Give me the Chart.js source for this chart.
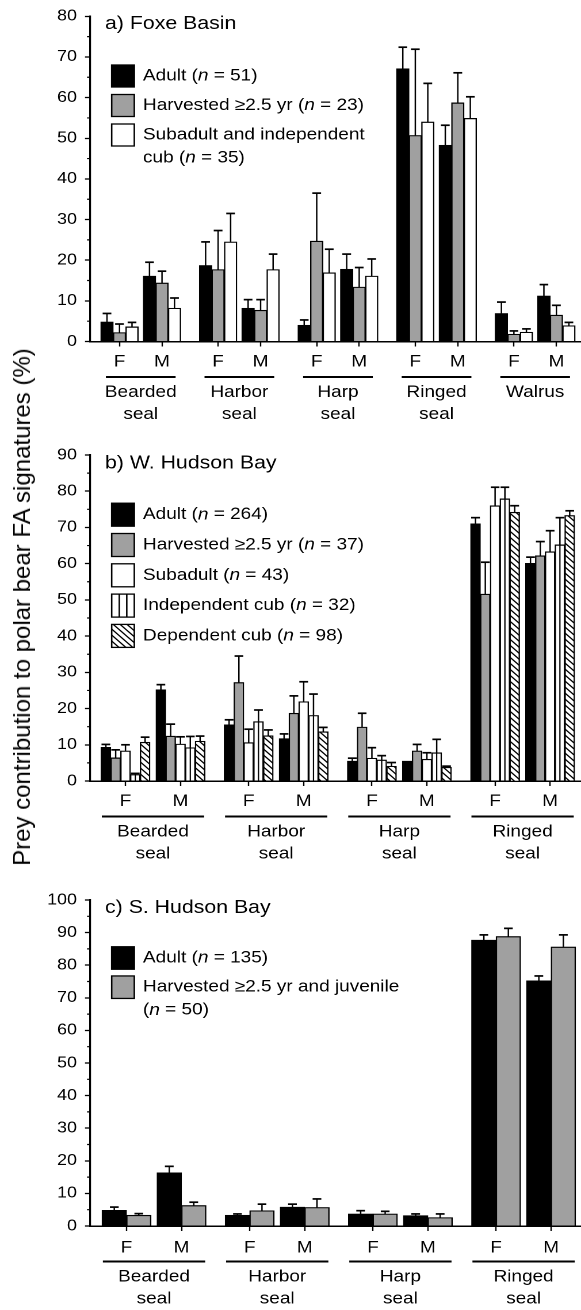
<!DOCTYPE html>
<html>
<head>
<meta charset="utf-8">
<title>Prey contribution to polar bear FA signatures</title>
<script src="https://cdn.jsdelivr.net/npm/chart.js@4.4.1/dist/chart.umd.min.js"></script>
<style>
  body { margin: 0; background: #fff; }
  #page { position: relative; width: 581px; height: 1310px; overflow: hidden; background: #fff; }
  #page canvas { position: absolute; left: 0; transform: scaleX(1.1505); transform-origin: 0 0; }
  #ytitle { position: absolute; left: 22px; top: 607px; white-space: nowrap;
    font: 24px "Liberation Sans", Arial, sans-serif; color: #000;
    transform: translate(-50%, -50%) rotate(-90deg); }
</style>
</head>
<body>
<div id="page">
  <canvas id="panelA" width="505" height="430" style="top:0"></canvas>
  <canvas id="panelB" width="505" height="440" style="top:430px"></canvas>
  <canvas id="panelC" width="505" height="440" style="top:870px"></canvas>
  <div id="ytitle">Prey contribution to polar bear FA signatures (%)</div>
</div>
<script>
const sexes = ['F', 'M'];

// a) Foxe Basin  (bars: Bearded F, Bearded M, Harbor F, Harbor M, Harp F, Harp M, Ringed F, Ringed M, Walrus F, Walrus M)
const speciesA = ['Bearded seal', 'Harbor seal', 'Harp seal', 'Ringed seal', 'Walrus'];
const groupsA = ['Adult', 'Harvested \u22652.5 yr', 'Subadult and independent\ncub'];
const sizesA = [51, 23, 35];
const adultA    = [4.8, 16.1, 18.7, 8.2, 4.0, 17.8, 67.1, 48.3, 6.9, 11.2];
const adultErrA = [2.1, 3.4, 5.8, 2.1, 1.3, 3.7, 5.3, 4.9, 2.8, 2.8];
const harvA     = [2.2, 14.4, 17.7, 7.7, 24.7, 13.4, 50.7, 58.7, 1.8, 6.5];
const harvErrA  = [2.1, 2.9, 9.6, 2.6, 11.8, 4.8, 21.2, 7.4, 0.8, 2.4];
const subA      = [3.6, 8.2, 24.5, 17.7, 16.9, 16.1, 54.0, 54.9, 2.3, 3.9];
const subErrA   = [1.1, 2.5, 7.0, 3.8, 5.8, 4.2, 9.5, 5.3, 0.8, 0.8];

// b) W. Hudson Bay  (bars: Bearded F, Bearded M, Harbor F, Harbor M, Harp F, Harp M, Ringed F, Ringed M)
const speciesB = ['Bearded seal', 'Harbor seal', 'Harp seal', 'Ringed seal'];
const groupsB = ['Adult', 'Harvested \u22652.5 yr', 'Subadult', 'Independent cub', 'Dependent cub'];
const sizesB = [264, 37, 43, 32, 98];
const adultB    = [9.3, 25.2, 15.5, 11.7, 5.5, 5.5, 71.0, 60.1];
const adultErrB = [0.8, 1.4, 1.4, 1.3, 0.8, 0, 1.7, 1.7];
const harvB     = [6.4, 12.4, 27.2, 18.7, 14.9, 8.3, 51.6, 62.2];
const harvErrB  = [2.2, 3.3, 7.3, 4.8, 3.8, 1.8, 8.8, 3.9];
const subB      = [8.3, 10.2, 10.6, 21.9, 6.3, 6.0, 76.0, 63.3];
const subErrB   = [1.7, 2.0, 3.7, 5.5, 2.9, 1.8, 5.1, 5.8];
const indB      = [1.8, 9.2, 16.4, 18.1, 5.8, 7.8, 77.9, 65.2];
const indErrB   = [0.3, 3.1, 3.2, 5.9, 1.2, 3.7, 3.2, 7.5];
const depB      = [10.7, 11.0, 12.5, 13.6, 4.1, 3.8, 74.2, 73.3];
const depErrB   = [1.4, 1.4, 1.6, 1.2, 1.0, 0.3, 1.8, 1.3];

// c) S. Hudson Bay
const speciesC = ['Bearded seal', 'Harbor seal', 'Harp seal', 'Ringed seal'];
const groupsC = ['Adult', 'Harvested \u22652.5 yr and juvenile\n'];
const sizesC = [135, 50];
const adultC    = [4.8, 16.3, 3.3, 5.8, 3.7, 3.2, 87.7, 75.2];
const adultErrC = [1.0, 2.0, 0.4, 0.9, 1.0, 0.5, 1.6, 1.5];
const harvC     = [3.3, 6.3, 4.7, 5.7, 3.7, 2.6, 88.8, 85.6];
const harvErrC  = [0.5, 1.0, 2.0, 2.6, 0.8, 1.1, 2.5, 3.7];

// the reference figure is stretched sideways, so every canvas is drawn narrow and scaled in x
const S = 581 / 505;
const FONT = '"Liberation Sans", Arial, Helvetica, sans-serif';
Chart.defaults.font.family = FONT;
Chart.defaults.color = '#000';

function series(labels, sizes, vals, errs, fills) {
  return labels.map((l, i) => ({ label: l, n: sizes[i], values: vals[i], errors: errs[i], fill: fills[i] }));
}

const panels = [
  { id: 'panelA', title: 'a) Foxe Basin', species: speciesA, yMax: 80,
    series: series(groupsA, sizesA, [adultA, harvA, subA], [adultErrA, harvErrA, subErrA], ['black', 'gray', 'white']),
    spacing: 2.32, xMin: -0.694, xMax: 10.859, barWidth: 10.87, lineExt: 0.32,
    plotTop: 15, plotBottom: 341.5, tickPad: 5.5,
    titleY: 24, legendY: 76, legendGap: 29.5, boxH: 22 },
  { id: 'panelB', title: 'b) W. Hudson Bay', species: speciesB, yMax: 90,
    series: series(groupsB, sizesB, [adultB, harvB, subB, indB, depB], [adultErrB, harvErrB, subErrB, indErrB, depErrB],
      ['black', 'gray', 'white', 'stripes', 'hatch']),
    spacing: 2.24, xMin: -0.645, xMax: 8.282, barWidth: 8.52, lineExt: 0.43,
    plotTop: 25, plotBottom: 351, tickPad: 5.5,
    titleY: 33.3, legendY: 84.7, legendGap: 30.3, boxH: 23 },
  { id: 'panelC', title: 'c) S. Hudson Bay', species: speciesC, yMax: 100,
    series: series(groupsC, sizesC, [adultC, harvC], [adultErrC, harvErrC], ['black', 'gray']),
    spacing: 2.24, xMin: -0.664, xMax: 8.264, barWidth: 21.3, lineExt: 0.43,
    plotTop: 30, plotBottom: 356, tickPad: 7,
    titleY: 37.7, legendY: 88, legendGap: 29.2, boxH: 22.5 }
];

function hatchPattern(ctx) {
  const c = document.createElement('canvas');
  c.width = c.height = 12;
  const g = c.getContext('2d');
  g.fillStyle = '#fff';
  g.fillRect(0, 0, 12, 12);
  g.strokeStyle = '#000';
  g.lineWidth = 2.4;
  g.beginPath();
  g.moveTo(-2, -2); g.lineTo(14, 14);
  g.moveTo(-2, 10); g.lineTo(2, 14);
  g.moveTo(10, -2); g.lineTo(14, 2);
  g.stroke();
  const p = ctx.createPattern(c, 'repeat');
  p.setTransform(new DOMMatrix([0.5, 0, 0, 0.5, 0, 0]));
  return p;
}

function fillFor(kind, ctx) {
  if (kind === 'black') return '#000';
  if (kind === 'gray') return '#a0a0a0';
  if (kind === 'hatch') return hatchPattern(ctx);
  return '#fff';
}

function decorFor(p) {
  return {
    id: 'decor',
    afterDatasetsDraw(chart) {
      const ctx = chart.ctx, ys = chart.scales.y;
      ctx.save();
      ctx.strokeStyle = '#000';
      chart.data.datasets.forEach((ds, i) => {
        chart.getDatasetMeta(i).data.forEach((bar, j) => {
          if (ds.stripes) {
            ctx.lineWidth = 1.1;
            ctx.beginPath();
            ctx.moveTo(bar.x, bar.base);
            ctx.lineTo(bar.x, bar.y);
            ctx.stroke();
          }
          const err = ds.errors[j];
          if (err > 0) {
            const top = ys.getPixelForValue(ds.data[j].y + err);
            ctx.lineWidth = 1.25;
            ctx.beginPath();
            ctx.moveTo(bar.x, bar.y);
            ctx.lineTo(bar.x, top);
            ctx.stroke();
            ctx.lineWidth = 1.7;
            ctx.beginPath();
            ctx.moveTo(bar.x - 3.8, top);
            ctx.lineTo(bar.x + 3.8, top);
            ctx.stroke();
          }
        });
      });
      ctx.restore();
    },
    afterDraw(chart) {
      const ctx = chart.ctx, xs = chart.scales.x, ys = chart.scales.y;
      const area = chart.chartArea;
      ctx.save();
      ctx.strokeStyle = '#000';
      ctx.fillStyle = '#000';

      // minor ticks at the fives
      ctx.lineWidth = 1.2;
      ctx.beginPath();
      for (let v = 5; v < p.yMax; v += 10) {
        const py = ys.getPixelForValue(v);
        ctx.moveTo(area.left - 2.6, py);
        ctx.lineTo(area.left, py);
      }
      ctx.stroke();

      // species names under a rule spanning F and M
      ctx.font = '16.5px ' + FONT;
      ctx.textAlign = 'center';
      ctx.textBaseline = 'middle';
      p.species.forEach((name, i) => {
        const x0 = xs.getPixelForValue(i * p.spacing - p.lineExt);
        const x1 = xs.getPixelForValue(i * p.spacing + 1 + p.lineExt);
        ctx.lineWidth = 2;
        ctx.beginPath();
        ctx.moveTo(x0, area.bottom + 35.5);
        ctx.lineTo(x1, area.bottom + 35.5);
        ctx.stroke();
        const cx = xs.getPixelForValue(i * p.spacing + 0.5);
        name.split(' ').forEach((w, k) => ctx.fillText(w, cx, area.bottom + 51 + k * 22));
      });

      // panel title
      ctx.textAlign = 'left';
      ctx.font = '18.5px ' + FONT;
      ctx.fillText(p.title, 105 / S, p.titleY);

      // legend
      const bx = 111.7 / S, bw = 22.6 / S, tx = 143 / S, fs = '16.5px ';
      chart.data.datasets.forEach((ds, k) => {
        const cy = p.legendY + k * p.legendGap;
        const top = cy - p.boxH / 2;
        ctx.fillStyle = ds.backgroundColor;
        ctx.fillRect(bx, top, bw, p.boxH);
        ctx.lineWidth = 1.3;
        if (ds.stripes) {
          ctx.beginPath();
          ctx.moveTo(bx + bw / 3, top); ctx.lineTo(bx + bw / 3, top + p.boxH);
          ctx.moveTo(bx + 2 * bw / 3, top); ctx.lineTo(bx + 2 * bw / 3, top + p.boxH);
          ctx.stroke();
        }
        ctx.strokeRect(bx, top, bw, p.boxH);
        ctx.fillStyle = '#000';
        const lines = ds.label.split('\n');
        lines.forEach((line, li) => {
          const ty = cy + li * 23;
          let x = tx;
          ctx.font = fs + FONT;
          let txt = line;
          if (li === lines.length - 1) txt += (line ? ' ' : '') + '(';
          ctx.fillText(txt, x, ty);
          if (li !== lines.length - 1) return;
          x += ctx.measureText(txt).width;
          ctx.font = 'italic ' + fs + FONT;
          ctx.fillText('n', x, ty);
          x += ctx.measureText('n').width;
          ctx.font = fs + FONT;
          ctx.fillText(' = ' + ds.n + ')', x, ty);
        });
      });
      ctx.restore();
    }
  };
}

panels.forEach(p => {
  const canvas = document.getElementById(p.id);
  const ctx = canvas.getContext('2d');
  const positions = [];
  p.species.forEach((s, i) => sexes.forEach((x, j) => positions.push(i * p.spacing + j)));

  const datasets = p.series.map(s => ({
    label: s.label,
    n: s.n,
    data: s.values.map((v, i) => ({ x: positions[i], y: v })),
    errors: s.errors,
    stripes: s.fill === 'stripes',
    backgroundColor: fillFor(s.fill, ctx),
    borderColor: '#000',
    borderWidth: 1.2,
    barThickness: p.barWidth
  }));

  new Chart(canvas, {
    type: 'bar',
    data: { datasets },
    options: {
      responsive: false,
      animation: false,
      devicePixelRatio: 2,
      layout: { padding: { top: p.plotTop, right: 0, bottom: 0, left: 0 } },
      plugins: { legend: { display: false }, tooltip: { enabled: false } },
      scales: {
        x: {
          type: 'linear', min: p.xMin, max: p.xMax, offset: false,
          afterBuildTicks: sc => { sc.ticks = positions.map(v => ({ value: v })); },
          afterFit: sc => { sc.height = canvas.height / 2 - p.plotBottom; },
          ticks: { callback: (v, i) => sexes[i % 2], font: { size: 16.5 }, color: '#000',
                   padding: p.tickPad, maxRotation: 0, autoSkip: false },
          grid: { offset: false, drawOnChartArea: false, tickLength: 5, tickColor: '#000', tickWidth: 1.2 },
          border: { color: '#000', width: 1.5 }
        },
        y: {
          min: 0, max: p.yMax,
          afterFit: sc => { sc.width = 90 / S; },
          ticks: { stepSize: 10, font: { size: 15.5 }, color: '#000', padding: 7 },
          grid: { drawOnChartArea: false, tickLength: 4.35, tickColor: '#000', tickWidth: 1.3 },
          border: { color: '#000', width: 1.6 }
        }
      }
    },
    plugins: [decorFor(p)]
  });
});
</script>
</body>
</html>
